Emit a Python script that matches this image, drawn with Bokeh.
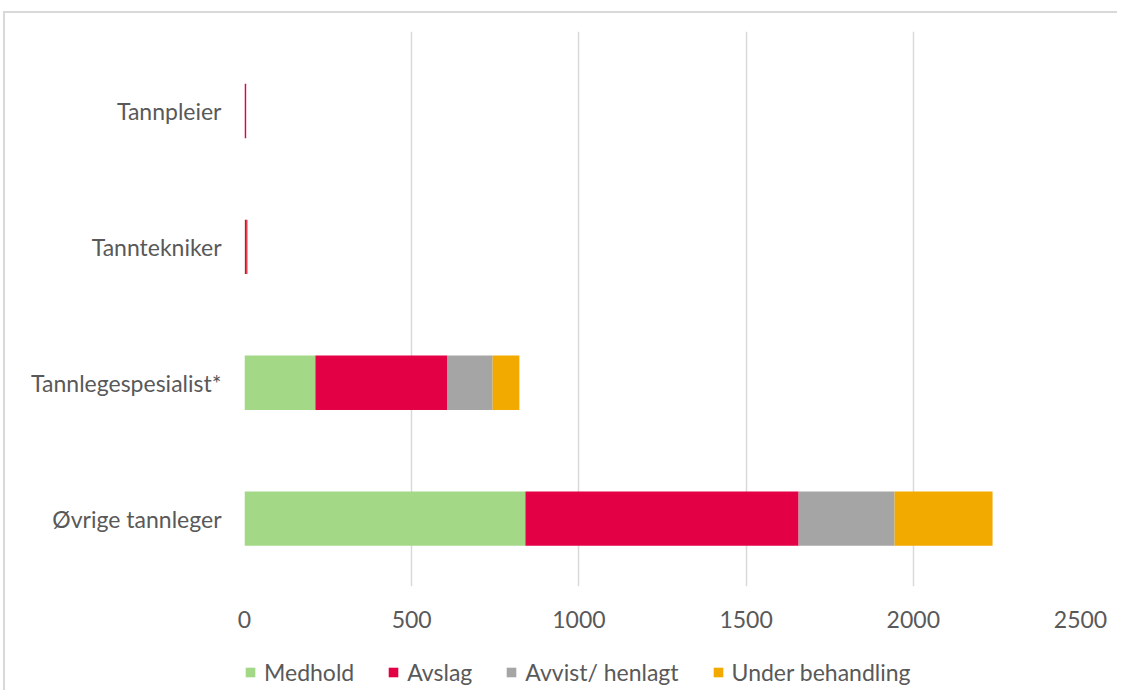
from bokeh.plotting import figure
from bokeh.layouts import column
from bokeh.models import ColumnDataSource, Range1d, FixedTicker, Legend, LegendItem
from bokeh.embed import file_html
from bokeh.resources import INLINE

categories = ["Øvrige tannleger", "Tannlegespesialist*", "Tanntekniker", "Tannpleier"]
series = ["Medhold", "Avslag", "Avvist/ henlagt", "Under behandling"]
medhold = [840, 212, 1, 0]
avslag = [817, 395, 6, 5]
avvist = [287, 135, 0, 0]
under = [293, 80, 3, 0]
x_ticks = [0, 500, 1000, 1500, 2000, 2500]
colors = ["#a2d886", "#e30045", "#a5a5a5", "#f2a900"]

FONT = "Lato"
TXT = "#595959"

src = ColumnDataSource(dict(
    y=list(range(len(categories))),
    m=medhold, a=avslag, v=avvist, u=under,
))

p = figure(width=1112, height=627, output_backend="svg", toolbar_location=None,
           x_range=Range1d(0, 2500), y_range=Range1d(-0.5, 3.585),
           min_border_left=239, min_border_right=37, min_border_top=18,
           min_border_bottom=54)
p.outline_line_color = None

rs = p.hbar_stack(["m", "a", "v", "u"], y="y", height=0.4, color=colors,
                  line_color=None, source=src)

p.xaxis.ticker = FixedTicker(ticks=x_ticks)
p.yaxis.ticker = FixedTicker(ticks=list(range(len(categories))))
p.yaxis.major_label_overrides = {i: c for i, c in enumerate(categories)}
for ax in (p.xaxis, p.yaxis):
    ax.axis_line_color = None
    ax.major_tick_line_color = None
    ax.minor_tick_line_color = None
    ax.major_label_text_font = FONT
    ax.major_label_text_font_size = "23px"
    ax.major_label_text_color = TXT
p.xaxis.major_label_standoff = 18
p.yaxis.major_label_standoff = 17
p.xgrid.ticker = FixedTicker(ticks=x_ticks)
p.xgrid.grid_line_color = "#d9d9d9"
p.xgrid.grid_line_width = 1.5
p.ygrid.grid_line_color = None

# legend strip below the chart
lf = figure(width=1112, height=50, output_backend="svg", toolbar_location=None,
            x_range=Range1d(0, 1), y_range=Range1d(0, 1),
            min_border_left=0, min_border_right=0, min_border_top=0, min_border_bottom=0)
lf.axis.visible = False
lf.grid.visible = False
lf.outline_line_color = None
lrs = lf.hbar_stack(["m", "a", "v", "u"], y="y", height=0.4, color=colors,
                    line_color=None, source=src)
for r in lrs:
    r.visible = False

legend = Legend(items=[LegendItem(label=s, renderers=[r]) for s, r in zip(series, lrs)],
                orientation="horizontal", location=(0, 4),
                glyph_width=12, glyph_height=12, label_height=24,
                label_text_font=FONT, label_text_font_size="23px",
                label_text_color=TXT, label_standoff=8, spacing=33,
                padding=0, margin=0, border_line_color=None,
                background_fill_alpha=0, inactive_fill_alpha=0)
lf.add_layout(legend, "center")

layout = column(p, lf, spacing=0)
layout.styles = {"border-top": "2px solid #d9d9d9", "border-left": "2px solid #d9d9d9",
                 "margin-top": "11px", "margin-left": "3px"}

open("out.html", "w").write(file_html(layout, INLINE))
